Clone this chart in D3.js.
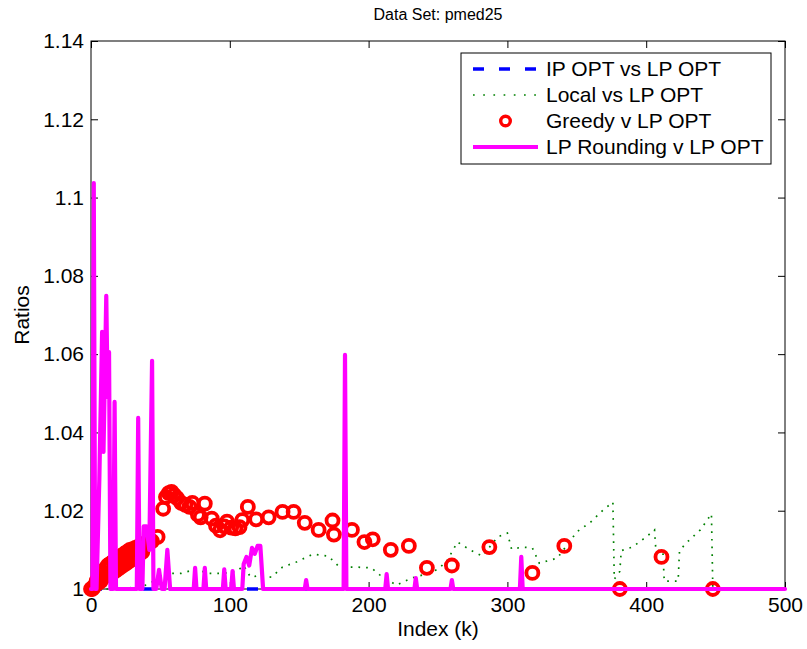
<!DOCTYPE html>
<html>
<head>
<meta charset="utf-8">
<script src="https://cdn.jsdelivr.net/npm/d3@7"></script>
<style>
  body { margin: 0; background: #fff; }
  svg text { font-family: "Liberation Sans", Arial, sans-serif; fill: #000; }
</style>
</head>
<body>
<svg width="807" height="649"></svg>
<script>
// chart values
var titleText = 'Data Set: pmed25';
var xLabel = 'Index (k)';
var yLabel = 'Ratios';
var xTicks = [0, 100, 200, 300, 400, 500];
var yTicks = [1, 1.02, 1.04, 1.06, 1.08, 1.1, 1.12, 1.14];
var yTickLabels = ['1', '1.02', '1.04', '1.06', '1.08', '1.1', '1.12', '1.14'];
var seriesNames = ['IP OPT vs LP OPT', 'Local vs LP OPT', 'Greedy v LP OPT', 'LP Rounding v LP OPT'];

// IP OPT vs LP OPT (sits on 1 the whole way)
var ipK = [0, 500];
var ipV = [1.0, 1.0];

// Local vs LP OPT
var localK = [0, 25, 30, 40, 45, 55, 65, 75, 85, 95,
  105, 110, 115, 122, 130, 138, 148, 160, 171, 179,
  191, 202, 208, 220, 231, 239, 249, 256, 264, 273,
  282, 293, 300, 303, 311, 318, 323, 336, 350, 360,
  369, 376, 377, 381, 382, 390, 400, 406, 407, 412,
  413, 423, 424, 429, 439, 447, 448];
var localV = [1.0, 1.0, 1.0005, 1.001, 1.002, 1.004, 1.004, 1.005, 1.004, 1.004,
  1.0045, 1.006, 1.003, 1.0035, 1.003, 1.0056, 1.0069, 1.0089, 1.0084, 1.0056,
  1.0056, 1.0054, 1.0036, 1.001, 1.0028, 1.0036, 1.0049, 1.0069, 1.012, 1.01,
  1.0084, 1.0133, 1.0143, 1.0102, 1.0107, 1.0105, 1.0066, 1.0079, 1.0146, 1.0171,
  1.0202, 1.0222, 1.0025, 1.0045, 1.0098, 1.0107, 1.0133, 1.0151, 1.0098, 1.0098,
  1.002, 1.002, 1.0098, 1.0118, 1.0151, 1.0192, 1.0];

// Greedy v LP OPT (markers only)
var greedyK = [0, 1, 2, 3, 4, 5, 6, 7, 8, 9,
  10, 11, 12, 13, 14, 15, 16, 17, 18, 19,
  20, 21, 22, 23, 24, 25, 26, 27, 28, 29,
  30, 31, 32, 33, 34, 35, 36, 37, 38, 40,
  42, 44, 48, 52, 54, 56, 58, 60, 62, 65,
  68, 71, 73, 77, 79, 82, 87, 90, 93, 96,
  98, 101, 104, 107, 109, 113, 119, 128, 138, 146,
  154, 164, 174, 175, 188, 197, 203, 216, 229, 242,
  260, 287, 318, 341, 381, 411, 448];
var greedyV = [1.0, 1.0, 1.0005, 1.001, 1.002, 1.0015, 1.003, 1.002, 1.004, 1.003,
  1.005, 1.0035, 1.006, 1.004, 1.0065, 1.004, 1.007, 1.0045, 1.0075, 1.005,
  1.008, 1.0055, 1.0085, 1.006, 1.009, 1.0065, 1.0095, 1.007, 1.01, 1.0075,
  1.0102, 1.008, 1.0105, 1.0085, 1.0108, 1.009, 1.011, 1.0095, 1.0115, 1.0118,
  1.012, 1.0122, 1.0133, 1.0205, 1.0235, 1.0245, 1.0248, 1.024, 1.0232, 1.022,
  1.0215, 1.021, 1.022, 1.019, 1.0183, 1.0218, 1.018, 1.0162, 1.015, 1.016,
  1.0172, 1.0157, 1.0155, 1.0158, 1.0176, 1.021, 1.0178, 1.0183, 1.0197, 1.0197,
  1.0169, 1.0151, 1.0175, 1.0139, 1.0151, 1.012, 1.0127, 1.01, 1.011, 1.0054,
  1.006, 1.0107, 1.0041, 1.011, 1.0, 1.0082, 1.0];

// LP Rounding v LP OPT
var lpK = [0, 1, 2, 3, 4, 6, 8, 9, 11, 12,
  13, 14, 16, 17, 18, 33, 34, 35, 37, 38,
  40, 42, 44, 45, 47, 49, 51, 53, 55, 57,
  74, 75, 76, 81, 82, 83, 95, 96, 97, 101,
  102, 103, 109, 110, 112, 114, 116, 118, 120, 122,
  124, 154, 155, 156, 182, 183, 184, 212, 213, 214,
  233, 234, 235, 259, 260, 261, 309, 310, 311, 500];
var lpV = [1.0, 1.0, 1.1037, 1.0, 1.0, 1.028, 1.0657, 1.035, 1.0749, 1.049,
  1.0605, 1.0, 1.0, 1.0478, 1.0, 1.0, 1.0437, 1.0, 1.0, 1.016,
  1.016, 1.01, 1.0583, 1.0, 1.0, 1.0049, 1.0, 1.0, 1.010, 1.0,
  1.0, 1.0054, 1.0, 1.0, 1.0054, 1.0, 1.0, 1.005, 1.0, 1.0,
  1.0046, 1.0, 1.0, 1.0064, 1.0082, 1.006, 1.0105, 1.009, 1.011, 1.011,
  1.0, 1.0, 1.0023, 1.0, 1.0, 1.0598, 1.0, 1.0, 1.0038, 1.0,
  1.0, 1.0028, 1.0, 1.0, 1.0023, 1.0, 1.0, 1.0082, 1.0, 1.0];

/********* layout *********/
var width = 807, height = 649;
var plot = { left: 91, right: 785, top: 41, bottom: 589 };
var fontSize = 21;
var tickLen = 7;

var svg = d3.select('svg');
var x = d3.scaleLinear().domain([0, 500]).range([plot.left, plot.right]);
var y = d3.scaleLinear().domain([1, 1.14]).range([plot.bottom, plot.top]);

function zipPts(ks, vs) {
  return ks.map(function (k, i) { return [k, vs[i]]; });
}
var line = d3.line().x(function (d) { return x(d[0]); }).y(function (d) { return y(d[1]); });

// axes, ticks pointing inward on all four sides
var axB = d3.axisBottom(x).tickValues(xTicks).tickSize(-tickLen).tickPadding(8)
  .tickFormat(d3.format('d'));
var axT = d3.axisTop(x).tickValues(xTicks).tickSize(-tickLen).tickFormat('');
var axL = d3.axisLeft(y).tickValues(yTicks).tickSize(-tickLen).tickPadding(7)
  .tickFormat(function (d, i) { return yTickLabels[i]; });
var axR = d3.axisRight(y).tickValues(yTicks).tickSize(-tickLen).tickFormat('');

function styleAxis(g) {
  g.select('.domain').remove();
  g.selectAll('.tick line').attr('stroke', '#000').attr('stroke-width', 1);
  g.selectAll('.tick text').style('font-size', fontSize + 'px').attr('fill', '#000');
}
svg.append('g').attr('transform', 'translate(0,' + plot.bottom + ')').call(axB).call(styleAxis);
svg.append('g').attr('transform', 'translate(0,' + plot.top + ')').call(axT).call(styleAxis);
svg.append('g').attr('transform', 'translate(' + plot.left + ',0)').call(axL).call(styleAxis);
svg.append('g').attr('transform', 'translate(' + plot.right + ',0)').call(axR).call(styleAxis);

// box
svg.append('rect')
  .attr('x', plot.left).attr('y', plot.top)
  .attr('width', plot.right - plot.left).attr('height', plot.bottom - plot.top)
  .attr('fill', 'none').attr('stroke', '#000').attr('stroke-width', 1);

// series
var chartG = svg.append('g');
chartG.append('path').datum(zipPts(ipK, ipV)).attr('d', line)
  .attr('fill', 'none').attr('stroke', '#0000ff').attr('stroke-width', 3.5)
  .attr('stroke-dasharray', '11,15');
chartG.append('path').datum(zipPts(localK, localV)).attr('d', line)
  .attr('fill', 'none').attr('stroke', '#008000').attr('stroke-width', 1.7)
  .attr('stroke-dasharray', '1.7,6');
chartG.selectAll('circle.greedy').data(zipPts(greedyK, greedyV)).enter()
  .append('circle').attr('class', 'greedy')
  .attr('cx', function (d) { return x(d[0]); })
  .attr('cy', function (d) { return y(d[1]); })
  .attr('r', 6).attr('fill', 'none').attr('stroke', '#ff0000').attr('stroke-width', 3.8);
chartG.append('path').datum(zipPts(lpK, lpV)).attr('d', line)
  .attr('fill', 'none').attr('stroke', '#ff00ff').attr('stroke-width', 4.2)
  .attr('stroke-linejoin', 'round').attr('stroke-linecap', 'round');

// texts
svg.append('text').attr('x', (plot.left + plot.right) / 2).attr('y', 20)
  .attr('text-anchor', 'middle').style('font-size', '16px').text(titleText);
svg.append('text').attr('x', (plot.left + plot.right) / 2).attr('y', 636)
  .attr('text-anchor', 'middle').style('font-size', fontSize + 'px').text(xLabel);
svg.append('text').attr('transform', 'translate(29,' + ((plot.top + plot.bottom) / 2) + ') rotate(-90)')
  .attr('text-anchor', 'middle').style('font-size', fontSize + 'px').text(yLabel);

// legend
var lg = svg.append('g').attr('transform', 'translate(461,53)');
lg.append('rect').attr('width', 310).attr('height', 111)
  .attr('fill', '#fff').attr('stroke', '#000').attr('stroke-width', 1);
var rowY = [16, 42, 68, 94];
var sx0 = 12, sx1 = 77, tx = 85;
lg.append('line').attr('x1', sx0).attr('x2', sx1).attr('y1', rowY[0]).attr('y2', rowY[0])
  .attr('stroke', '#0000ff').attr('stroke-width', 3.5).attr('stroke-dasharray', '11,15');
lg.append('line').attr('x1', sx0).attr('x2', sx1).attr('y1', rowY[1]).attr('y2', rowY[1])
  .attr('stroke', '#008000').attr('stroke-width', 1.7).attr('stroke-dasharray', '1.7,8.5');
lg.append('circle').attr('cx', (sx0 + sx1) / 2).attr('cy', rowY[2]).attr('r', 4.8)
  .attr('fill', 'none').attr('stroke', '#ff0000').attr('stroke-width', 3.4);
lg.append('line').attr('x1', sx0).attr('x2', sx1).attr('y1', rowY[3]).attr('y2', rowY[3])
  .attr('stroke', '#ff00ff').attr('stroke-width', 4.2);
lg.selectAll('text.lab').data(seriesNames).enter().append('text').attr('class', 'lab')
  .attr('x', tx).attr('y', function (d, i) { return rowY[i]; })
  .attr('dy', '0.35em').style('font-size', fontSize + 'px').text(function (d) { return d; });
</script>
</body>
</html>
